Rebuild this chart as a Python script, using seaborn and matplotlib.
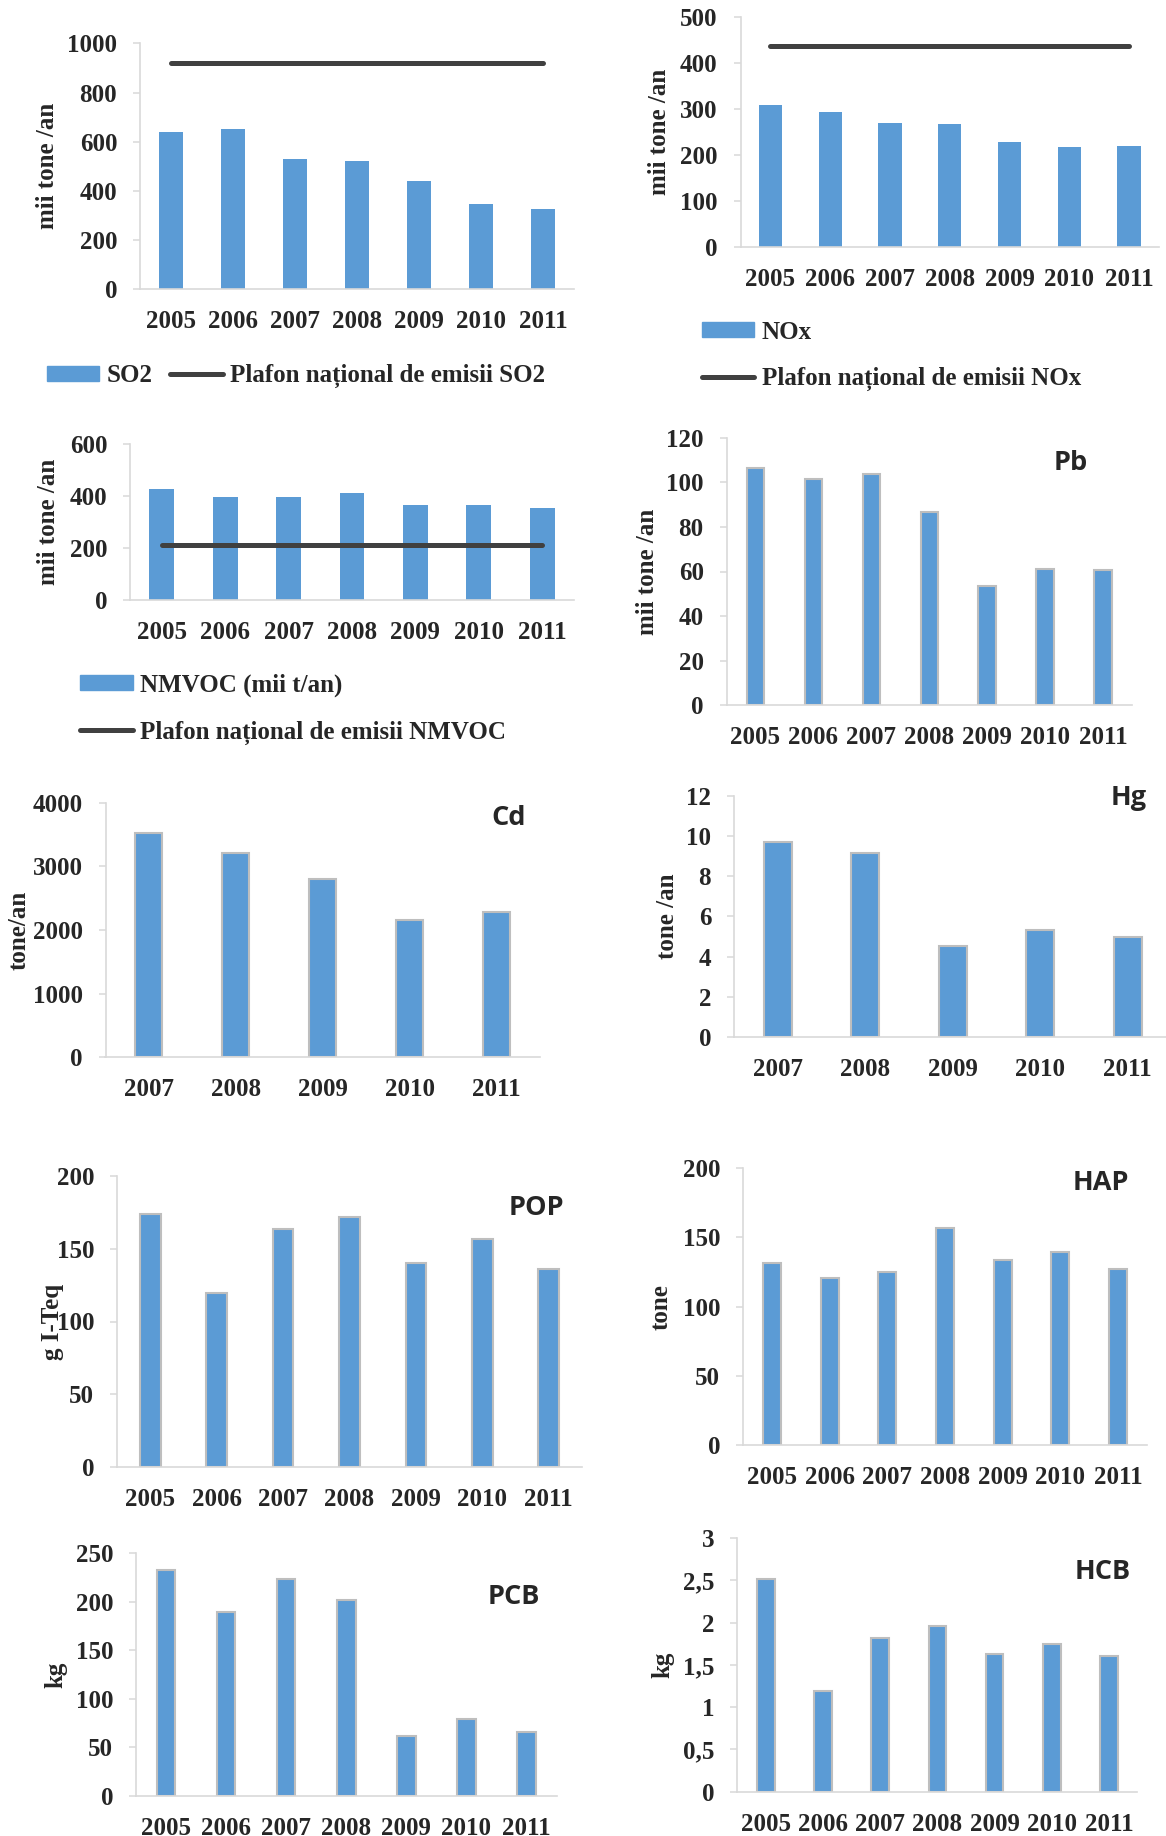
import numpy as np
import seaborn as sns
import matplotlib.pyplot as plt
from matplotlib.patches import Patch
from matplotlib.lines import Line2D

sns.set_style("white")
plt.rcParams['font.family'] = ['Liberation Serif', 'DejaVu Serif']
plt.rcParams['font.weight'] = 'bold'

# data
years_7 = ['2005', '2006', '2007', '2008', '2009', '2010', '2011']
years_5 = ['2007', '2008', '2009', '2010', '2011']

so2 = [640, 652, 531, 523, 440, 347, 326]
so2_ceiling = 918
nox = [309, 294, 270, 269, 229, 217, 221]
nox_ceiling = 437
nmvoc = [426, 396, 396, 411, 365, 365, 355]
nmvoc_ceiling = 210
pb = [106.5, 101.7, 103.8, 86.6, 53.6, 61.0, 60.5]
cd = [3518, 3213, 2795, 2161, 2277]
hg = [9.71, 9.15, 4.51, 5.31, 4.99]
pop = [173.5, 119.7, 163.6, 171.6, 139.9, 156.5, 135.8]
hap = [131.5, 120.9, 125.0, 156.5, 133.6, 139.4, 126.9]
pcb = [232.8, 189.5, 223.8, 201.9, 61.8, 79.0, 66.2]
hcb = [2.51, 1.19, 1.82, 1.96, 1.63, 1.75, 1.60]
hcb_ticklabels = ['0', '0,5', '1', '1,5', '2', '2,5', '3']

BLUE = '#5B9BD5'
DARK = '#404040'
EDGE = '#BEBEBE'
SPINE = '#D9D9D9'
FS = 18

W, H = 1166, 1836
fig = plt.figure(figsize=(W / 100, H / 100), dpi=100)


def panel(left, right, top, bottom, cats, vals, width, yticks, ylabel, ylab_x,
          edge=None, ticklabels=None, xright=None, ceiling=None):
    ax = fig.add_axes([left / W, 1 - bottom / H, (right - left) / W, (bottom - top) / H])
    kw = dict(edgecolor=edge, linewidth=1.5) if edge else dict(linewidth=0)
    sns.barplot(x=cats, y=vals, color=BLUE, saturation=1, width=width, ax=ax, **kw)
    if ceiling is not None:
        idx = np.arange(len(cats))
        sns.lineplot(x=idx, y=[ceiling] * len(cats), color=DARK, linewidth=3.6,
                     solid_capstyle='round', ax=ax)
    n = len(cats)
    ax.set_xlim(-0.5, xright if xright is not None else n - 0.5)
    ax.set_ylim(yticks[0], yticks[-1])
    ax.set_yticks(yticks)
    if ticklabels is not None:
        ax.set_yticklabels(ticklabels)
    ax.set_xlabel('')
    ax.set_ylabel(ylabel, fontsize=FS, fontweight='bold')
    ax.yaxis.set_label_coords((ylab_x - left) / (right - left), 0.5)
    ax.yaxis.label.set_verticalalignment('center')
    for s in ['top', 'right']:
        ax.spines[s].set_visible(False)
    for s in ['left', 'bottom']:
        ax.spines[s].set_color(SPINE)
        ax.spines[s].set_linewidth(1.2)
    ax.tick_params(axis='y', direction='out', length=5.4, width=1.1, color=SPINE,
                   pad=11, labelsize=FS, left=True)
    ax.tick_params(axis='x', length=0, pad=15, labelsize=FS)
    for t in ax.get_xticklabels() + ax.get_yticklabels():
        t.set_fontweight('bold')
    return ax


def legend(x, y, labels, ncol):
    handles = [Patch(color=BLUE),
               Line2D([], [], color=DARK, linewidth=3.6, solid_capstyle='round')]
    fig.legend(handles, labels, loc='center left', bbox_to_anchor=(x / W, 1 - y / H),
               ncol=ncol, frameon=False, prop={'size': FS, 'weight': 'bold'},
               handlelength=2.1, handleheight=0.55, handletextpad=0.3,
               columnspacing=0.7, labelspacing=0.95, borderpad=0, borderaxespad=0)


def tag(x, y, text):
    fig.text(x / W, 1 - y / H, text, family='Open Sans', weight='bold', size=19.5,
             ha='center', va='center')


# SO2
panel(140, 574, 43.3, 289.3, years_7, so2, 0.40, np.arange(0, 1001, 200),
      'mii tone /an', 48, ceiling=so2_ceiling)
legend(46.6, 376, ['SO2', 'Plafon național de emisii SO2'], 2)

# NOx
panel(740.5, 1159, 17.3, 247.3, years_7, nox, 0.39, np.arange(0, 501, 100),
      'mii tone /an', 660, ceiling=nox_ceiling)
legend(702, 356, ['NOx', 'Plafon național de emisii NOx'], 1)

# NMVOC
panel(130, 574, 444, 600, years_7, nmvoc, 0.39, np.arange(0, 601, 200),
      'mii tone /an', 48.5, ceiling=nmvoc_ceiling)
legend(80, 709, ['NMVOC (mii t/an)', 'Plafon național de emisii NMVOC'], 1)

# Pb
panel(726.5, 1132, 437.7, 705.3, years_7, pb, 0.30, np.arange(0, 121, 20),
      'mii tone /an', 648, edge=EDGE)
tag(1071, 463, 'Pb')

# Cd
panel(105.5, 540, 802.7, 1057.3, years_5, cd, 0.31, np.arange(0, 4001, 1000),
      'tone/an', 19, edge=EDGE)
tag(508.7, 818, 'Cd')

# Hg
panel(734, 1166, 795.7, 1037, years_5, hg, 0.32, np.arange(0, 13, 2),
      'tone /an', 667, edge=EDGE, xright=4.44)
tag(1129, 798, 'Hg')

# POP
panel(117, 582, 1175.7, 1467.3, years_7, pop, 0.31, np.arange(0, 201, 50),
      'g I-Teq', 52, edge=EDGE)
tag(536.7, 1208, 'POP')

# HAP
panel(743, 1147, 1168, 1445.3, years_7, hap, 0.31, np.arange(0, 201, 50),
      'tone', 661, edge=EDGE)
tag(1101, 1183, 'HAP')

# PCB
panel(136, 556.5, 1553.3, 1796, years_7, pcb, 0.31, np.arange(0, 251, 50),
      'kg', 56, edge=EDGE)
tag(514.3, 1597, 'PCB')

# HCB
panel(737.4, 1137.4, 1538, 1791.7, years_7, hcb, 0.31, np.arange(0, 3.01, 0.5),
      'kg', 663, edge=EDGE, ticklabels=hcb_ticklabels)
tag(1103, 1572, 'HCB')

fig.savefig('out.png', dpi=100)
